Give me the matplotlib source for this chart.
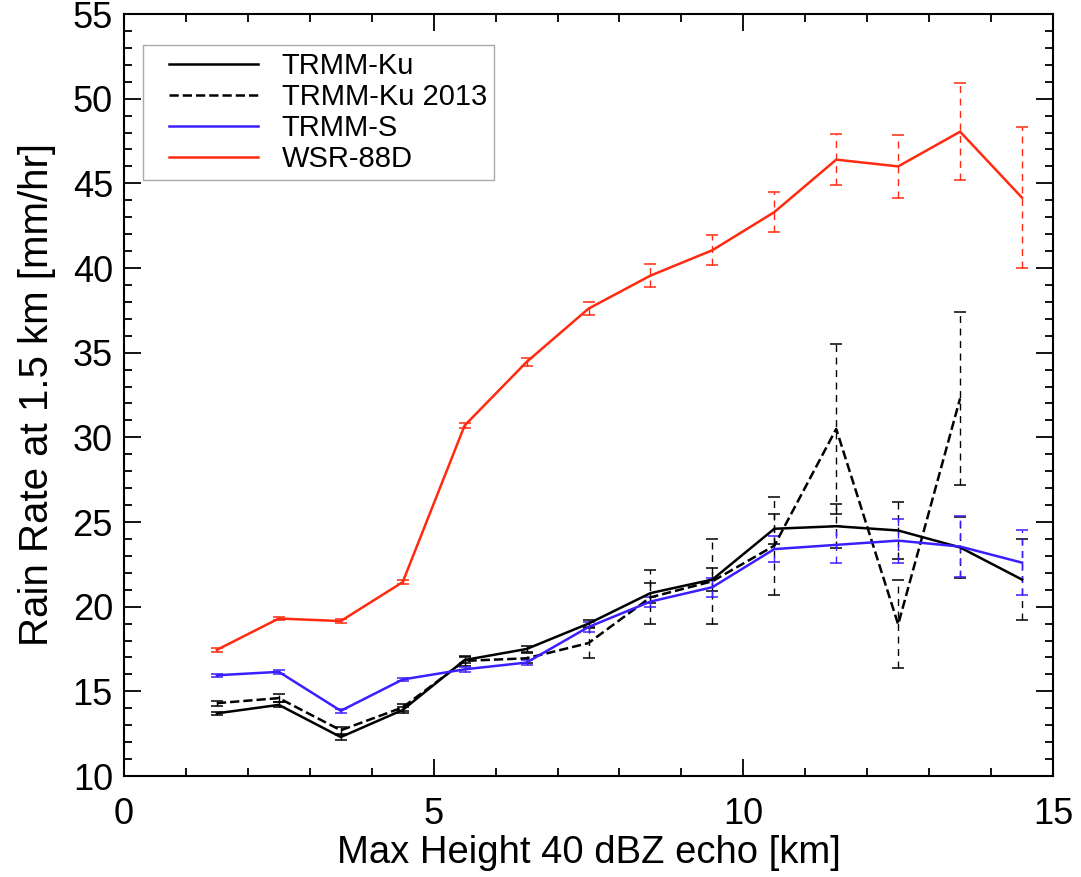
import numpy as np
import matplotlib
matplotlib.use("Agg")
import matplotlib.pyplot as plt
from matplotlib.ticker import MultipleLocator
from matplotlib.lines import Line2D
from matplotlib.legend_handler import HandlerLine2D

plt.rcParams['font.family'] = ['Liberation Sans', 'DejaVu Sans']

# max height of 40 dBZ echo (bin centres, km)
height = [1.5, 2.5, 3.5, 4.5, 5.5, 6.5, 7.5, 8.5, 9.5, 10.5, 11.5, 12.5, 13.5, 14.5]

# rain rate at 1.5 km (mm/hr) and error bar half widths
ku = [13.7, 14.2, 12.3, 13.9, 16.85, 17.5, 19.0, 20.8, 21.6, 24.6, 24.75, 24.5, 23.5, 21.6]
ku_err = [0.1, 0.15, 0.15, 0.15, 0.2, 0.15, 0.2, 0.6, 0.7, 0.9, 1.3, 1.7, 1.8, 2.4]

ku13 = [14.3, 14.6, 12.7, 14.05, 16.8, 16.95, 17.85, 20.55, 21.5, 23.6, 30.5, 18.95, 32.3, np.nan]
ku13_err = [0.15, 0.25, 0.2, 0.2, 0.3, 0.3, 0.9, 1.6, 2.5, 2.9, 5.0, 2.6, 5.1, np.nan]

trmm_s = [15.95, 16.15, 13.85, 15.7, 16.3, 16.7, 18.8, 20.3, 21.15, 23.4, 23.65, 23.9, 23.55, 22.6]
trmm_s_err = [0.1, 0.1, 0.1, 0.1, 0.15, 0.15, 0.3, 0.3, 0.55, 0.75, 1.1, 1.3, 1.8, 1.9]

wsr = [17.45, 19.3, 19.15, 21.45, 30.7, 34.45, 37.6, 39.55, 41.05, 43.3, 46.4, 46.0, 48.05, 44.15]
wsr_err = [0.1, 0.1, 0.1, 0.12, 0.15, 0.25, 0.4, 0.7, 0.9, 1.2, 1.5, 1.85, 2.85, 4.15]

series = [
    (ku, ku_err, 'black', '-', 'TRMM-Ku'),
    (ku13, ku13_err, 'black', '--', 'TRMM-Ku 2013'),
    (trmm_s, trmm_s_err, '#3a1fff', '-', 'TRMM-S'),
    (wsr, wsr_err, '#ff2a10', '-', 'WSR-88D'),
]

fig = plt.figure(figsize=(10.81, 8.77), dpi=100)
ax = fig.add_axes([124 / 1081, 1 - 776 / 877, 929 / 1081, 762 / 877])

lines = []
for vals, err, col, ls, lab in series:
    eb = ax.errorbar(height, vals, yerr=err, color=col, linestyle=ls, lw=1.8,
                     elinewidth=1.0, capsize=4.5, capthick=1.1, label=lab)
    eb[2][0].set_linestyle((0, (5, 4)))
    lines.append(eb[0])

ax.set_xlim(0, 15)
ax.set_ylim(10, 55)
ax.xaxis.set_major_locator(MultipleLocator(5))
ax.xaxis.set_minor_locator(MultipleLocator(1))
ax.yaxis.set_major_locator(MultipleLocator(5))
ax.yaxis.set_minor_locator(MultipleLocator(1))
ax.tick_params(which='both', direction='in', top=True, right=True, width=1.3,
               labelsize=26)
ax.tick_params(which='major', length=12)
ax.tick_params(which='minor', length=6)
ax.tick_params(axis='x', which='major', pad=15)
ax.tick_params(axis='y', which='major', pad=8)
for sp in ax.spines.values():
    sp.set_linewidth(1.5)

ax.set_xlabel('Max Height 40 dBZ echo [km]', fontsize=27.5, labelpad=2)
ax.set_ylabel('Rain Rate at 1.5 km [mm/hr]', fontsize=29, labelpad=12)

leg = ax.legend(lines, [s[4] for s in series], loc='upper left',
                bbox_to_anchor=(19 / 929, 731 / 762), borderaxespad=0,
                fontsize=21, frameon=True, fancybox=False, framealpha=1,
                handlelength=3.7, handletextpad=0.8, labelspacing=0.1,
                borderpad=0.25,
                handler_map={Line2D: HandlerLine2D(xpad=0.64)})
leg.get_frame().set_edgecolor('#aaaaaa')
leg.get_frame().set_linewidth(1.0)

fig.savefig('out.png', dpi=100)
